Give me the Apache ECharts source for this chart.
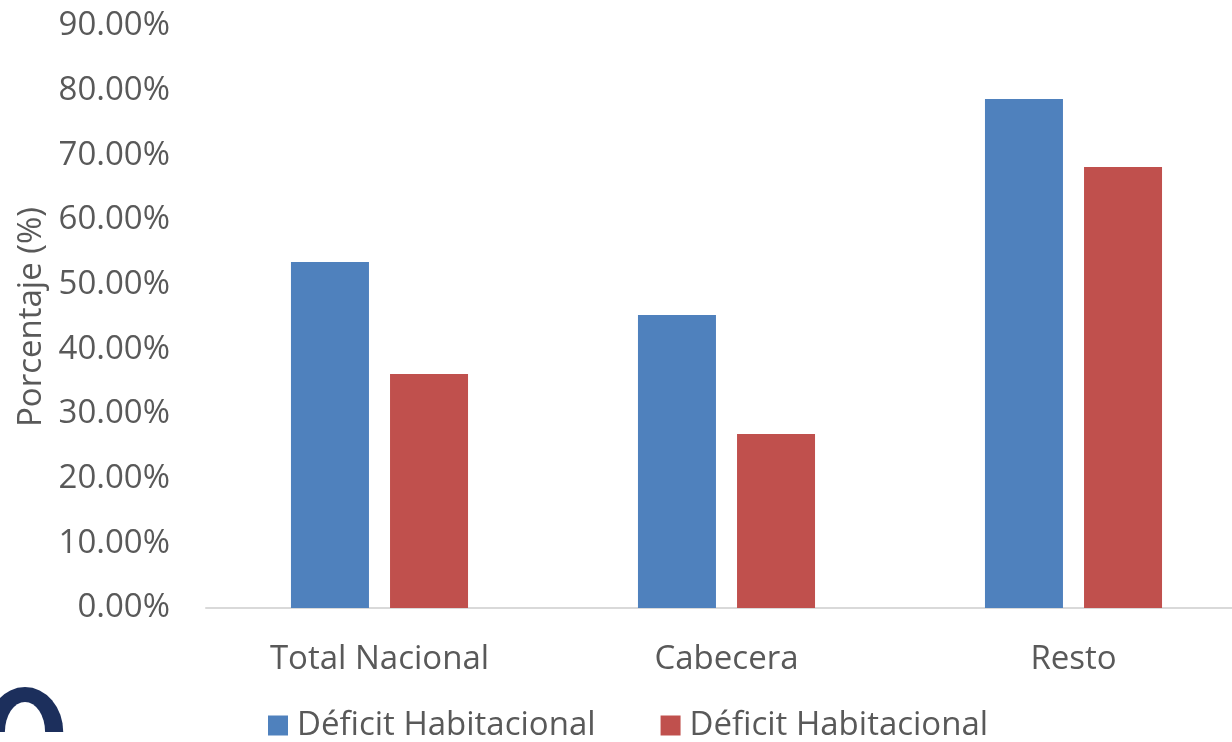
<!DOCTYPE html>
<html>
<head>
<meta charset="utf-8">
<script src="https://cdn.jsdelivr.net/npm/echarts@6/dist/echarts.min.js"></script>
<style>
  html, body { margin: 0; padding: 0; background: #fff; overflow: hidden; }
  /* plot runs past the right edge of the window, as in the source image */
  #chart { width: 1247px; height: 742px; }
</style>
</head>
<body>
<div id="chart"></div>
<script>
// data (percent)
const categories = ['Total Nacional', 'Cabecera', 'Resto'];
const serieA = [53.5, 45.3, 78.7];
const serieB = [36.2, 26.9, 68.2];
const legendLabel = 'Déficit Habitacional';
const yTicks = { min: 0, max: 90, interval: 10 };

const font = 'Open Sans';
const textColor = '#595959';
const logoColor = '#1c2f5c';

let chart = echarts.init(document.getElementById('chart'));
let option = {
  color: ['#4f81bd', '#c0504d'],
  textStyle: { fontFamily: font },
  grid: { left: 206, top: 26, bottom: 134, right: 0 },
  legend: {
    left: 263,
    top: 704,
    itemWidth: 20,
    itemHeight: 20,
    itemGap: 65,
    icon: 'rect',
    formatter: () => legendLabel,
    textStyle: { fontSize: 33, color: textColor, fontFamily: font, padding: [0, 0, 0, 4] },
    data: ['a', 'b']
  },
  xAxis: {
    type: 'category',
    data: categories,
    axisTick: { show: false },
    axisLine: { lineStyle: { color: '#d9d9d9', width: 2 } },
    axisLabel: { fontSize: 33, color: textColor, margin: 35, fontFamily: font }
  },
  yAxis: {
    type: 'value',
    min: yTicks.min,
    max: yTicks.max,
    interval: yTicks.interval,
    name: 'Porcentaje (%)',
    nameLocation: 'middle',
    nameGap: 155,
    nameTextStyle: { fontSize: 33, color: textColor, fontFamily: font },
    splitLine: { show: false },
    axisLine: { show: false },
    axisTick: { show: false },
    axisLabel: {
      fontSize: 33, color: textColor, margin: 36, fontFamily: font,
      formatter: v => v.toFixed(2) + '%'
    }
  },
  series: [
    { name: 'a', type: 'bar', data: serieA, barWidth: 78, barGap: '27%' },
    { name: 'b', type: 'bar', data: serieB, barWidth: 78, barGap: '27%' }
  ],
  // cut-off logo in the bottom-left corner
  graphic: [
    { type: 'circle', x: 25, y: 732, scaleX: 0.85, shape: { cx: 0, cy: 0, r: 45 },
      style: { fill: logoColor }, silent: true, z: 1 },
    { type: 'circle', x: 25, y: 732, scaleX: 0.67, shape: { cx: 0, cy: 0, r: 30 },
      style: { fill: '#fff' }, silent: true, z: 2 },
    { type: 'rect', shape: { x: 0, y: 732, width: 90, height: 10 },
      style: { fill: '#fff' }, silent: true, z: 3 }
  ]
};
chart.setOption(option);
</script>
</body>
</html>
